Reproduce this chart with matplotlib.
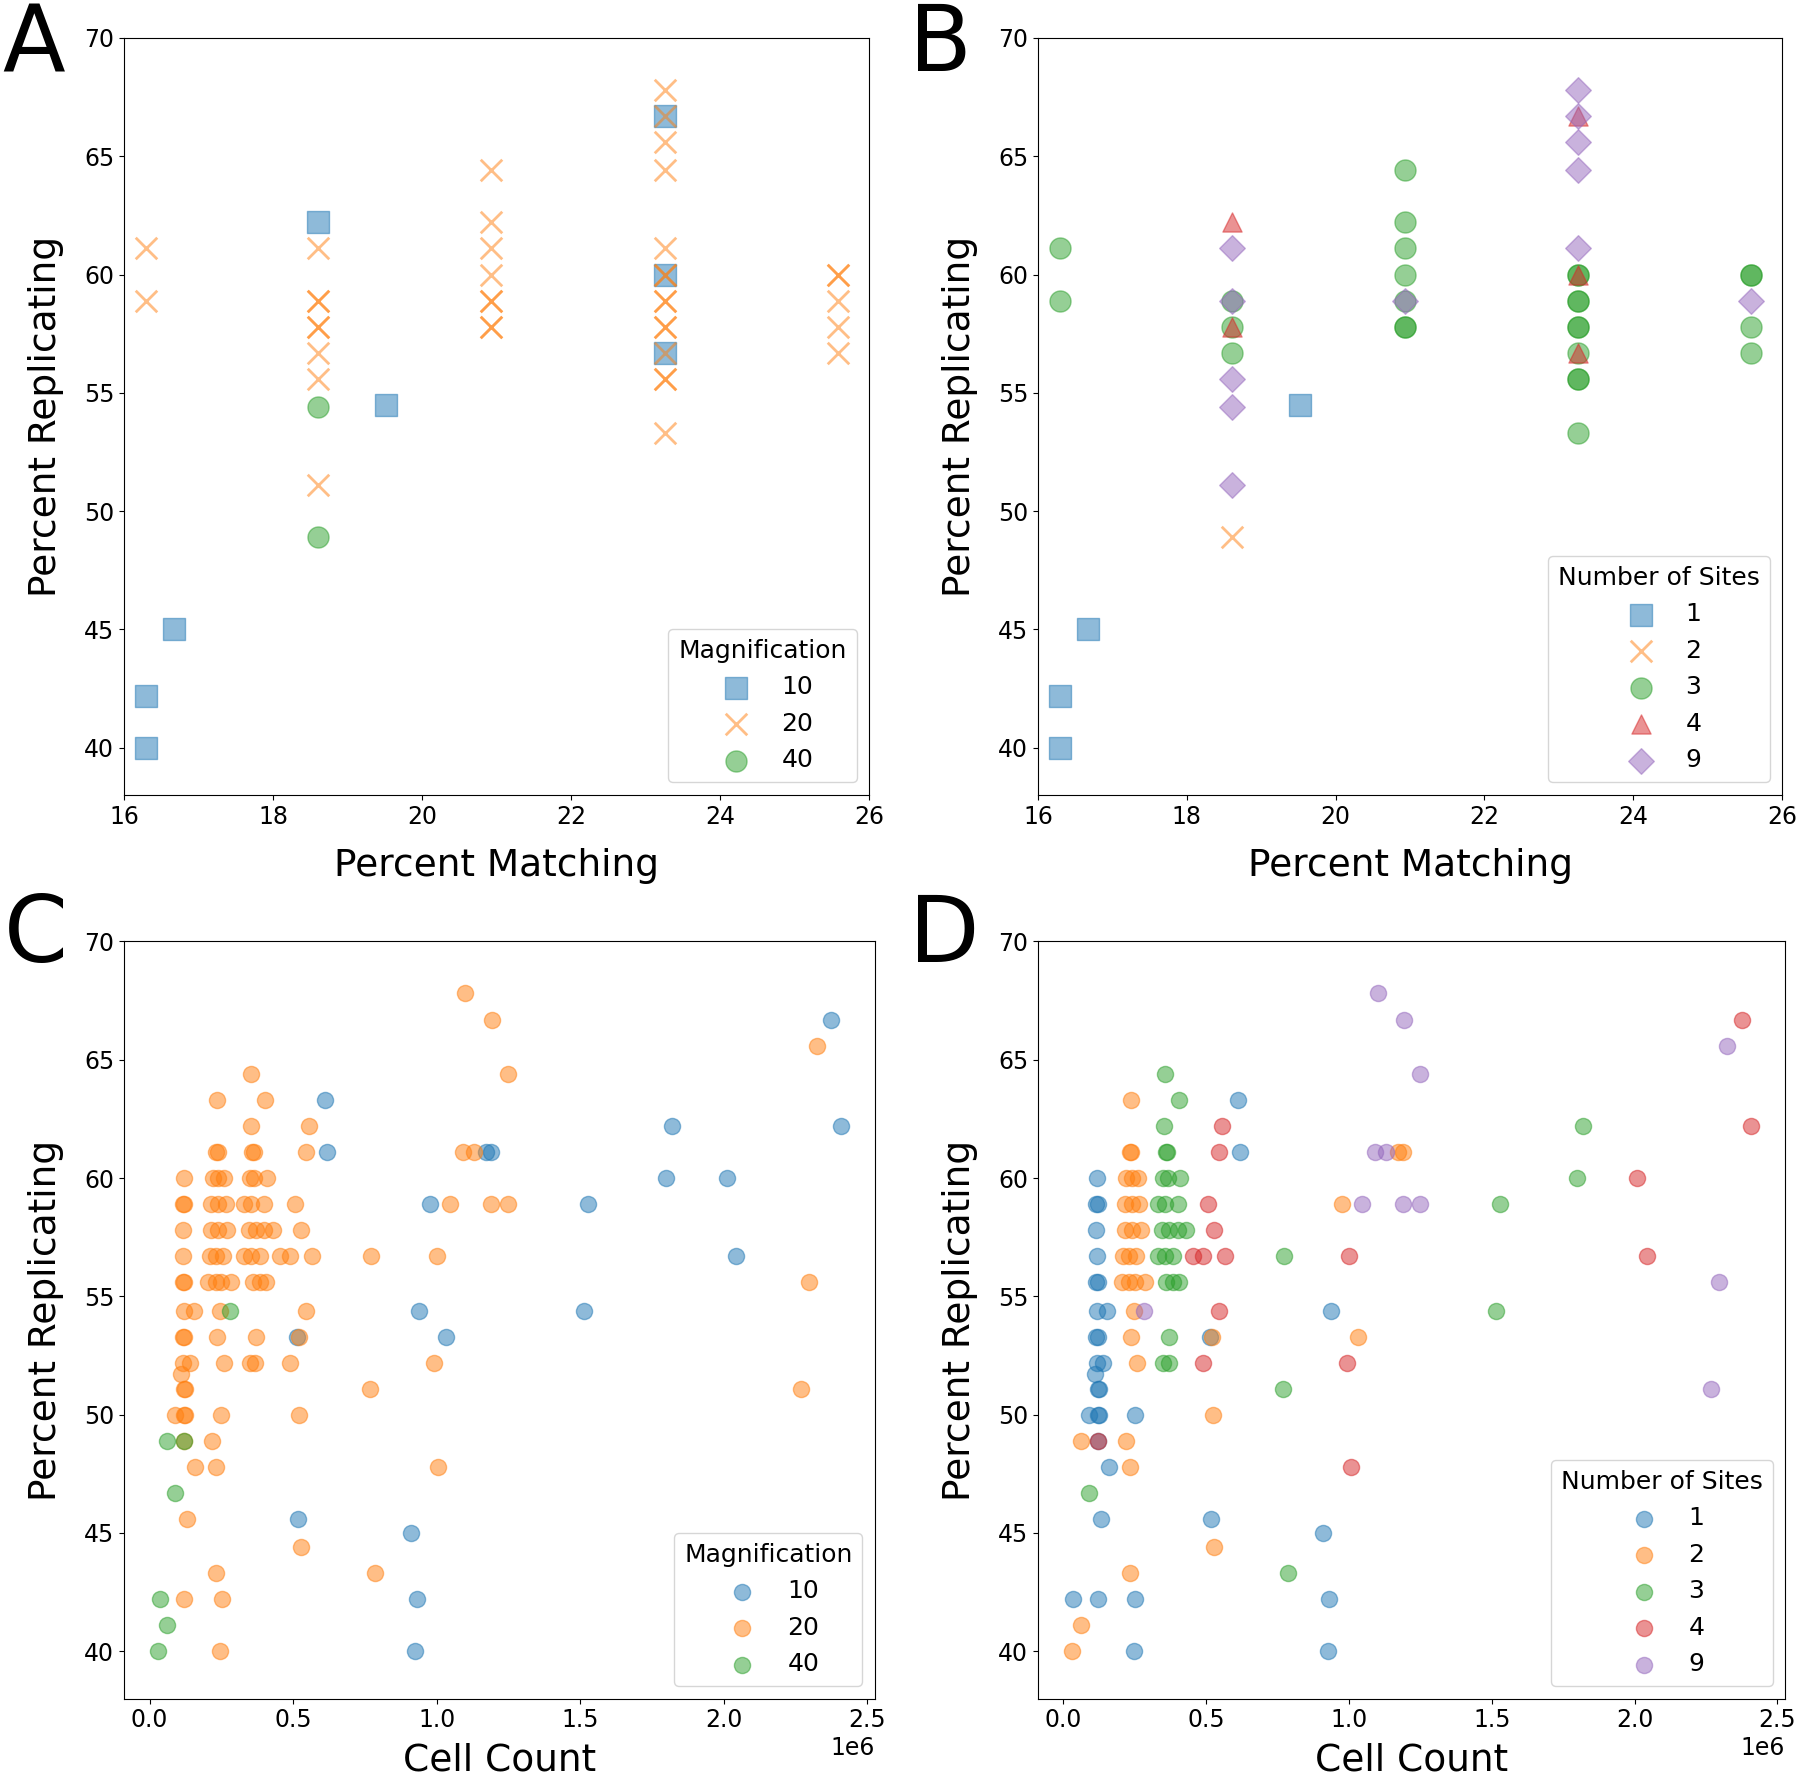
import matplotlib
matplotlib.use("Agg")
import matplotlib.pyplot as plt

# ---------------- Data: panels A / B (Percent Matching vs Percent Replicating)
ab_match = [16.29, 16.29, 16.29, 16.29,
            16.67,
            18.61, 18.61, 18.61, 18.61, 18.61, 18.61, 18.61, 18.61, 18.61, 18.61, 18.61,
            19.52,
            20.93, 20.93, 20.93, 20.93, 20.93, 20.93, 20.93, 20.93,
            23.26, 23.26, 23.26, 23.26, 23.26, 23.26, 23.26, 23.26, 23.26, 23.26, 23.26,
            23.26, 23.26, 23.26, 23.26, 23.26, 23.26, 23.26,
            25.59, 25.59, 25.59, 25.59, 25.59]
ab_rep = [61.1, 58.9, 42.2, 40.0,
          45.0,
          62.2, 61.1, 58.9, 58.9, 57.8, 57.8, 56.7, 55.6, 54.4, 51.1, 48.9,
          54.5,
          64.4, 62.2, 61.1, 60.0, 58.9, 58.9, 57.8, 57.8,
          67.8, 66.7, 66.7, 65.6, 64.4, 61.1, 60.0, 60.0, 60.0, 58.9, 58.9,
          57.8, 57.8, 56.7, 56.7, 55.6, 55.6, 53.3,
          60.0, 60.0, 58.9, 57.8, 56.7]
ab_mag = [20, 20, 10, 10,
          10,
          10, 20, 20, 20, 20, 20, 20, 20, 40, 20, 40,
          10,
          20, 20, 20, 20, 20, 20, 20, 20,
          20, 10, 20, 20, 20, 20, 10, 20, 20, 20, 20,
          20, 20, 10, 20, 20, 20, 20,
          20, 20, 20, 20, 20]
ab_sites = [3, 3, 1, 1,
            1,
            4, 9, 9, 3, 4, 3, 3, 9, 9, 9, 2,
            1,
            3, 3, 3, 3, 3, 9, 3, 3,
            9, 4, 9, 9, 9, 9, 4, 3, 3, 3, 3,
            3, 3, 4, 3, 3, 3, 3,
            3, 3, 9, 3, 3]

# ---------------- Data: panels C / D (Cell Count vs Percent Replicating)
cell_count = [1.100e6,
              1.193e6, 2.375e6,
              2.325e6,
              0.355e6, 1.250e6,
              0.235e6, 0.403e6, 0.610e6,
              0.353e6, 0.554e6, 1.819e6, 2.408e6,
              0.232e6, 0.237e6, 0.358e6, 0.363e6, 0.544e6, 0.618e6, 1.092e6, 1.130e6, 1.172e6, 1.188e6,
              0.119e6, 0.220e6, 0.240e6, 0.260e6, 0.350e6, 0.365e6, 0.408e6, 1.800e6, 2.010e6,
              0.115e6, 0.120e6, 0.215e6, 0.240e6, 0.265e6, 0.330e6, 0.355e6, 0.400e6, 0.505e6,
              0.977e6, 1.045e6, 1.190e6, 1.250e6, 1.528e6,
              0.115e6, 0.215e6, 0.240e6, 0.270e6, 0.345e6, 0.370e6, 0.400e6, 0.430e6, 0.528e6,
              0.117e6, 0.210e6, 0.230e6, 0.255e6, 0.330e6, 0.355e6, 0.385e6, 0.453e6, 0.488e6,
              0.566e6, 0.772e6, 1.000e6, 2.043e6,
              0.115e6, 0.120e6, 0.205e6, 0.230e6, 0.250e6, 0.285e6, 0.360e6, 0.385e6, 0.405e6, 2.297e6,
              0.119e6, 0.154e6, 0.246e6, 0.281e6, 0.544e6, 0.937e6, 1.515e6,
              0.115e6, 0.120e6, 0.235e6, 0.370e6, 0.513e6, 0.519e6, 1.031e6,
              0.117e6, 0.140e6, 0.258e6, 0.350e6, 0.368e6, 0.489e6, 0.992e6,
              0.111e6,
              0.120e6, 0.125e6, 0.768e6, 2.269e6,
              0.088e6, 0.120e6, 0.125e6, 0.250e6, 0.522e6,
              0.060e6, 0.120e6, 0.120e6, 0.218e6,
              0.158e6, 0.233e6, 1.006e6,
              0.089e6,
              0.130e6, 0.518e6,
              0.910e6,
              0.528e6,
              0.232e6, 0.785e6,
              0.035e6, 0.120e6, 0.252e6, 0.930e6,
              0.060e6,
              0.030e6, 0.247e6, 0.925e6]
cd_rep = [67.8,
          66.7, 66.7,
          65.6,
          64.4, 64.4,
          63.3, 63.3, 63.3,
          62.2, 62.2, 62.2, 62.2,
          61.1, 61.1, 61.1, 61.1, 61.1, 61.1, 61.1, 61.1, 61.1, 61.1,
          60.0, 60.0, 60.0, 60.0, 60.0, 60.0, 60.0, 60.0, 60.0,
          58.9, 58.9, 58.9, 58.9, 58.9, 58.9, 58.9, 58.9, 58.9,
          58.9, 58.9, 58.9, 58.9, 58.9,
          57.8, 57.8, 57.8, 57.8, 57.8, 57.8, 57.8, 57.8, 57.8,
          56.7, 56.7, 56.7, 56.7, 56.7, 56.7, 56.7, 56.7, 56.7,
          56.7, 56.7, 56.7, 56.7,
          55.6, 55.6, 55.6, 55.6, 55.6, 55.6, 55.6, 55.6, 55.6, 55.6,
          54.4, 54.4, 54.4, 54.4, 54.4, 54.4, 54.4,
          53.3, 53.3, 53.3, 53.3, 53.3, 53.3, 53.3,
          52.2, 52.2, 52.2, 52.2, 52.2, 52.2, 52.2,
          51.7,
          51.1, 51.1, 51.1, 51.1,
          50.0, 50.0, 50.0, 50.0, 50.0,
          48.9, 48.9, 48.9, 48.9,
          47.8, 47.8, 47.8,
          46.7,
          45.6, 45.6,
          45.0,
          44.4,
          43.3, 43.3,
          42.2, 42.2, 42.2, 42.2,
          41.1,
          40.0, 40.0, 40.0]
cd_mag = [20,
          20, 10,
          20,
          20, 20,
          20, 20, 10,
          20, 20, 10, 10,
          20, 20, 20, 20, 20, 10, 20, 20, 10, 10,
          20, 20, 20, 20, 20, 20, 20, 10, 10,
          20, 20, 20, 20, 20, 20, 20, 20, 20,
          10, 20, 20, 20, 10,
          20, 20, 20, 20, 20, 20, 20, 20, 20,
          20, 20, 20, 20, 20, 20, 20, 20, 20,
          20, 20, 20, 10,
          20, 20, 20, 20, 20, 20, 20, 20, 20, 20,
          20, 20, 20, 40, 20, 10, 10,
          20, 20, 20, 20, 10, 20, 10,
          20, 20, 20, 20, 20, 20, 20,
          20,
          20, 20, 20, 20,
          20, 20, 20, 20, 20,
          40, 40, 20, 20,
          20, 20, 20,
          40,
          20, 10,
          10,
          20,
          20, 20,
          40, 20, 20, 10,
          40,
          40, 20, 10]
cd_sites = [9,
            9, 4,
            9,
            3, 9,
            2, 3, 1,
            3, 4, 3, 4,
            2, 2, 3, 3, 4, 1, 9, 9, 2, 2,
            1, 2, 2, 2, 3, 3, 3, 3, 4,
            1, 1, 2, 2, 2, 3, 3, 3, 4,
            2, 9, 9, 9, 3,
            1, 2, 2, 2, 3, 3, 3, 3, 4,
            1, 2, 2, 2, 3, 3, 3, 4, 4,
            4, 3, 4, 4,
            1, 1, 2, 2, 2, 2, 3, 3, 3, 9,
            1, 1, 2, 9, 4, 1, 3,
            1, 1, 2, 3, 1, 2, 2,
            1, 1, 2, 3, 3, 4, 4,
            1,
            1, 1, 3, 9,
            1, 1, 1, 1, 2,
            2, 4, 1, 2,
            1, 2, 4,
            3,
            1, 1,
            1,
            2,
            2, 3,
            1, 1, 1, 1,
            2,
            2, 1, 1]

mag_levels = [10, 20, 40]
site_levels = [1, 2, 3, 4, 9]
mag_colors = ["#1f77b4", "#ff7f0e", "#2ca02c"]
site_colors = ["#1f77b4", "#ff7f0e", "#2ca02c", "#d62728", "#9467bd"]
mag_markers = ["s", "x", "o"]
site_markers = ["s", "x", "o", "^", "D"]
marker_sizes = {"s": 240, "x": 240, "o": 230, "^": 190, "D": 170}

TICK = 17
LABEL = 27
LEG = 18

fig = plt.figure(figsize=(18, 17.82), dpi=100)

axA = fig.add_axes([0.0689, 0.5539, 0.4139, 0.4248])
axB = fig.add_axes([0.5767, 0.5539, 0.4133, 0.4248])
axC = fig.add_axes([0.0689, 0.0468, 0.4172, 0.4249])
axD = fig.add_axes([0.5767, 0.0468, 0.4150, 0.4249])


def draw(ax, xs, ys, groups, levels, colors, markers, sizes, title):
    for lev, col, mk in zip(levels, colors, markers):
        px = [x for x, g in zip(xs, groups) if g == lev]
        py = [y for y, g in zip(ys, groups) if g == lev]
        s = sizes if isinstance(sizes, (int, float)) else sizes[mk]
        lw = 2.0 if mk == "x" else 1.0
        ax.scatter(px, py, s=s, c=col, marker=mk, alpha=0.5,
                   linewidths=lw, label=str(lev))
    ax.set_ylim(38, 70)
    ax.set_ylabel("Percent Replicating", fontsize=LABEL, labelpad=14)
    ax.tick_params(labelsize=TICK)
    ax.xaxis.get_offset_text().set_fontsize(TICK)
    ax.legend(title=title, loc="lower right", fontsize=LEG,
              title_fontsize=LEG)


draw(axA, ab_match, ab_rep, ab_mag, mag_levels, mag_colors, mag_markers,
     marker_sizes, "Magnification")
draw(axB, ab_match, ab_rep, ab_sites, site_levels, site_colors, site_markers,
     marker_sizes, "Number of Sites")
draw(axC, cell_count, cd_rep, cd_mag, mag_levels, mag_colors,
     ["o"] * 3, 135, "Magnification")
draw(axD, cell_count, cd_rep, cd_sites, site_levels, site_colors,
     ["o"] * 5, 135, "Number of Sites")

for ax in (axA, axB):
    ax.set_xlim(16, 26)
    ax.set_xlabel("Percent Matching", fontsize=LABEL, labelpad=14)
for ax in (axC, axD):
    ax.set_xlabel("Cell Count", fontsize=LABEL, labelpad=7)

fig.text(0.001, 0.960, "A", fontsize=66, ha="left", va="baseline")
fig.text(0.505, 0.960, "B", fontsize=66, ha="left", va="baseline")
fig.text(0.002, 0.460, "C", fontsize=66, ha="left", va="baseline")
fig.text(0.505, 0.460, "D", fontsize=66, ha="left", va="baseline")

fig.savefig("out.png", dpi=100)
